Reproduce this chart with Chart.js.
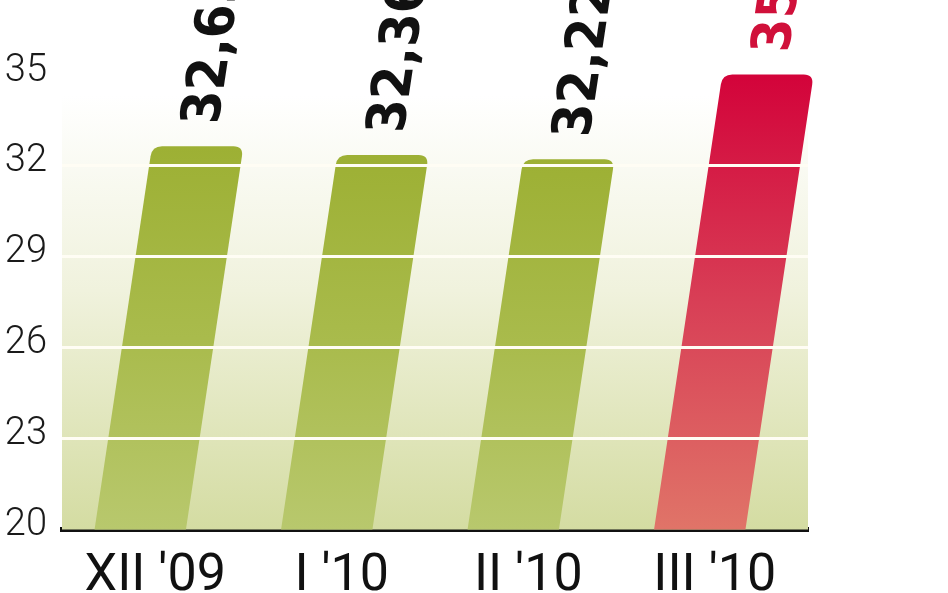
<!DOCTYPE html>
<html>
<head>
<meta charset="utf-8">
<script src="https://cdn.jsdelivr.net/npm/chart.js@4.4.0/dist/chart.umd.min.js"></script>
<style>
  html, body { margin: 0; padding: 0; background: #fff; }
</style>
</head>
<body>
<canvas id="myChart" width="948" height="593"></canvas>
<script>
const labels = ["XII '09", "I '10", "II '10", "III '10"];
const values = [32.65, 32.36, 32.22, 35.02];
const yTicks = [20, 23, 26, 29, 32, 35];
const highlight = [false, false, false, true];

const SLANT = 0.15;

// background + slanted bars with rotated value labels
const slantBars = {
  id: 'slantBars',
  beforeDatasetsDraw(chart) {
    const { ctx, chartArea: a } = chart;
    const top = a.top + 20;
    const g = ctx.createLinearGradient(0, top, 0, a.bottom);
    g.addColorStop(0, '#ffffff');
    g.addColorStop(0.45, '#f0f2dd');
    g.addColorStop(1, '#d4dca2');
    ctx.save();
    ctx.fillStyle = g;
    ctx.fillRect(a.left, top, a.right - a.left, a.bottom - top);
    ctx.restore();
  },
  afterDatasetsDraw(chart) {
    const ctx = chart.ctx;
    const meta = chart.getDatasetMeta(0);
    const yScale = chart.scales.y;
    meta.data.forEach((el, i) => {
      const w = el.width, top = el.y;
      const base = yScale.getPixelForValue(yScale.min);
      const h = base - top;
      const bx = el.x - 15;
      const sh = SLANT * h;
      const r = 10;
      const grad = ctx.createLinearGradient(0, top, 0, base);
      if (highlight[i]) {
        grad.addColorStop(0, '#d3033a');
        grad.addColorStop(0.5, '#d83f56');
        grad.addColorStop(1, '#e07468');
      } else {
        grad.addColorStop(0, '#9db034');
        grad.addColorStop(0.5, '#a9bb4c');
        grad.addColorStop(1, '#b8c86d');
      }
      ctx.save();
      ctx.fillStyle = grad;
      ctx.beginPath();
      ctx.moveTo(bx - w / 2, base);
      ctx.lineTo(bx - w / 2 + sh - SLANT * r, top + r);
      ctx.quadraticCurveTo(bx - w / 2 + sh, top, bx - w / 2 + sh + r, top);
      ctx.lineTo(bx + w / 2 + sh - r, top);
      ctx.quadraticCurveTo(bx + w / 2 + sh, top, bx + w / 2 + sh - SLANT * r, top + r);
      ctx.lineTo(bx + w / 2, base);
      ctx.closePath();
      ctx.fill();
      ctx.restore();

      const gap = 22;
      ctx.save();
      ctx.translate(bx + sh + SLANT * gap + 3, top - gap);
      ctx.transform(1, 0, -SLANT, 1, 0, 0);
      ctx.rotate(-Math.PI / 2);
      ctx.font = 'bold 54px "DejaVu Sans Condensed", "DejaVu Sans"';
      ctx.fillStyle = highlight[i] ? '#d0103a' : '#111111';
      ctx.textAlign = 'left';
      ctx.textBaseline = 'middle';
      ctx.fillText(values[i].toFixed(2).replace('.', ','), 0, 0);
      ctx.restore();
    });
  }
};

const data = {
  labels: labels,
  datasets: [{
    data: values,
    backgroundColor: 'rgba(0,0,0,0)',
    borderWidth: 0,
    categoryPercentage: 1,
    barPercentage: 0.49
  }]
};

const config = {
  type: 'bar',
  data: data,
  options: {
    responsive: false,
    animation: false,
    layout: { padding: { left: 5, right: 140, top: 75, bottom: 0 } },
    plugins: { legend: { display: false }, tooltip: { enabled: false } },
    scales: {
      x: {
        z: 1,
        afterFit: axis => { axis.height = 63.5; },
        grid: { display: false, drawTicks: false },
        border: { display: true, color: '#111111', width: 5 },
        ticks: {
          font: { family: 'Roboto, "Liberation Sans", sans-serif', size: 52, weight: '400' },
          color: '#111111',
          padding: 16,
          maxRotation: 0,
          autoSkip: false
        }
      },
      y: {
        z: 1,
        min: 20,
        max: 35,
        afterFit: axis => { axis.width = 57; },
        afterBuildTicks: axis => { axis.ticks = yTicks.map(v => ({ value: v })); },
        grid: {
          z: 1,
          color: c => (c.tick && (c.tick.value === 20 || c.tick.value === 35)) ? 'rgba(0,0,0,0)' : '#fffdf4',
          lineWidth: 3,
          drawTicks: false
        },
        border: { display: false },
        ticks: {
          font: { family: 'Roboto, "Liberation Sans", sans-serif', size: 38, weight: '300' },
          color: '#1a1a1a',
          padding: 15,
          labelOffset: -4
        }
      }
    }
  },
  plugins: [slantBars]
};

const myChart = new Chart(document.getElementById('myChart'), config);
</script>
</body>
</html>
